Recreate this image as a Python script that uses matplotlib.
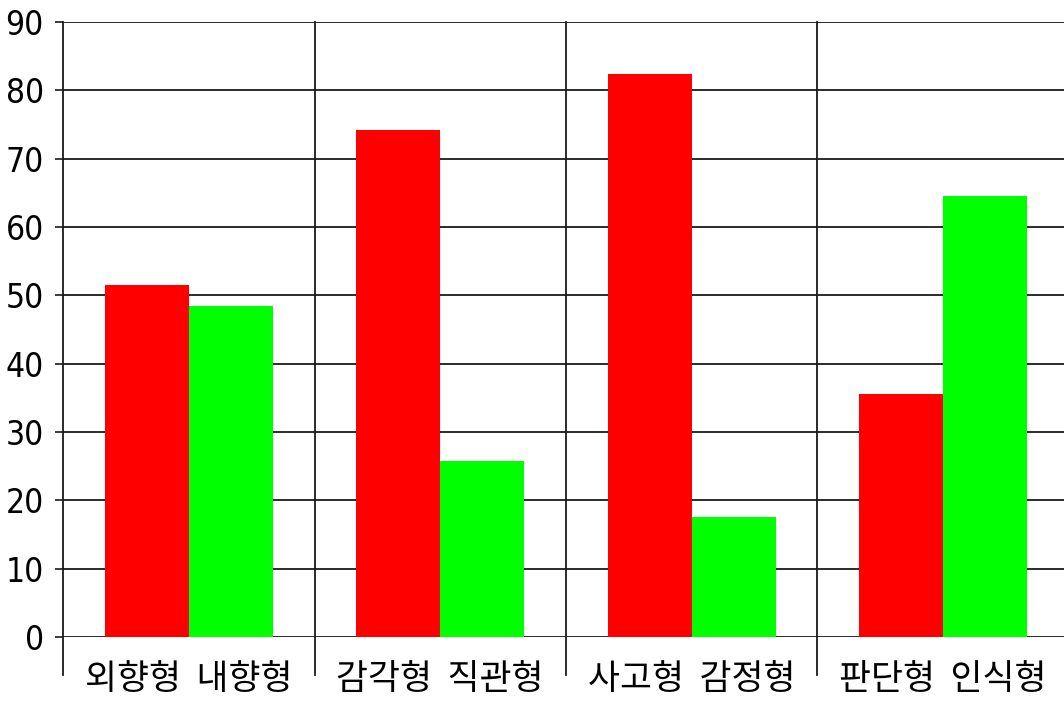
import matplotlib
matplotlib.use("Agg")
import matplotlib.pyplot as plt
import numpy as np

groups = ["외향형  내향형", "감각형  직관형", "사고형  감정형", "판단형  인식형"]
red_values = [51.5, 74.2, 82.4, 35.5]
green_values = [48.5, 25.8, 17.6, 64.5]
yticks = [0, 10, 20, 30, 40, 50, 60, 70, 80, 90]

W, H = 1064, 702
fig = plt.figure(figsize=(W / 100, H / 100), dpi=100)
left, right, top, bottom = 63, 1064, 22, 637
ax = fig.add_axes([left / W, 1 - bottom / H, (right - left) / W, (bottom - top) / H])

group_px = 251.5
ax.set_xlim(0, (right - left) / group_px)
ax.set_ylim(0, 90)

x = np.arange(len(groups))
bw = 1 / 3
ax.bar(x + 1 / 6, red_values, width=bw, align="edge", color="#ff0000", zorder=3, linewidth=0)
ax.bar(x + 1 / 6 + bw, green_values, width=bw, align="edge", color="#00ff00", zorder=3, linewidth=0)

for s in ax.spines.values():
    s.set_visible(False)

for v in yticks:
    ax.axhline(v, color="#1a1a1a", lw=1.3, zorder=2)

ext = (675 - bottom) / (bottom - top)
for b in range(len(groups) + 1):
    ax.axvline(b, ymin=-ext, ymax=1, color="#1a1a1a", lw=1.3, zorder=2, clip_on=False)

ax.set_yticks(yticks)
ax.set_yticklabels([str(v) for v in yticks])
for lab in ax.get_yticklabels():
    lab.set_family("DejaVu Sans")
    lab.set_stretch("condensed")
    lab.set_fontsize(24)
ax.tick_params(axis="y", length=5.8, width=1.2, color="#1a1a1a", pad=8)
ax.set_xticks([])

for i, g in enumerate(groups):
    ax.text(i + 0.5, -(680 - bottom) / (bottom - top), g, transform=ax.get_xaxis_transform(),
            ha="center", va="center", fontsize=25, family=["Noto Sans CJK KR", "DejaVu Sans"])

fig.savefig("out.png", dpi=100)
